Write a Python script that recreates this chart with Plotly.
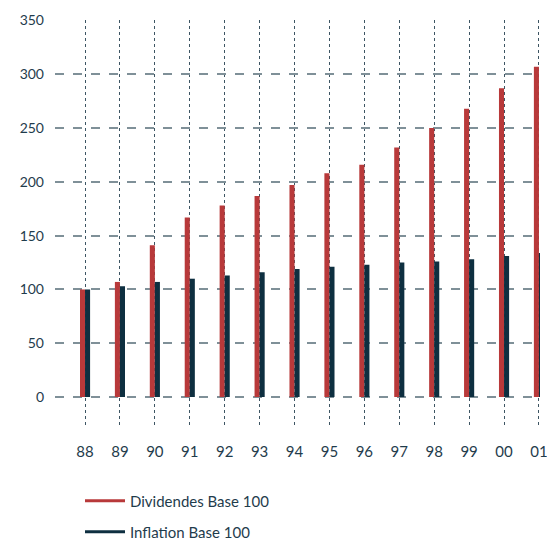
import plotly.graph_objects as go

# Years (two-digit labels) and the two indexed series
years = ["88", "89", "90", "91", "92", "93", "94", "95", "96", "97", "98", "99", "00", "01"]
dividendes = [100, 107, 141, 167, 178, 187, 197, 208, 216, 232, 250, 268, 287, 307]
inflation = [100, 103, 107, 110, 113, 116, 119, 121, 123, 125, 126, 128, 131, 134]
y_ticks = [0, 50, 100, 150, 200, 250, 300, 350]

RED = "#b8393a"
NAVY = "#0e2f40"
TEXT = "#1f3c4c"
FONT = "Lato, 'Open Sans', sans-serif"

x = list(range(len(years)))
bar_w = 0.145

fig = go.Figure()
fig.add_trace(go.Bar(x=x, y=dividendes, width=bar_w, offset=-bar_w,
                     marker=dict(color=RED, line=dict(width=0)),
                     cliponaxis=False, showlegend=False, hoverinfo="y"))
fig.add_trace(go.Bar(x=x, y=inflation, width=bar_w, offset=0,
                     marker=dict(color=NAVY, line=dict(width=0)),
                     cliponaxis=False, showlegend=False, hoverinfo="y"))

# Legend entries drawn as short lines, each in its own legend box
fig.add_trace(go.Scatter(x=[None], y=[None], mode="lines",
                         line=dict(color=RED, width=3),
                         name="Dividendes Base 100", legend="legend"))
fig.add_trace(go.Scatter(x=[None], y=[None], mode="lines",
                         line=dict(color=NAVY, width=3),
                         name="Inflation Base 100", legend="legend2"))

legend_common = dict(xref="container", yref="container", xanchor="left",
                     yanchor="middle", bgcolor="rgba(0,0,0,0)", itemwidth=40,
                     borderwidth=0,
                     font=dict(family=FONT, size=15, color=TEXT))

fig.update_layout(
    width=547, height=544,
    margin=dict(l=55, r=7, t=20, b=119, autoexpand=False),
    paper_bgcolor="white", plot_bgcolor="white",
    barmode="overlay",
    font=dict(family=FONT, size=14, color=TEXT),
    legend=dict(x=80 / 547, y=1 - 501 / 544, **legend_common),
    legend2=dict(x=80 / 547, y=1 - 532 / 544, **legend_common),
    xaxis=dict(
        range=[-0.86, 13.03],
        tickvals=x, ticktext=years, tickangle=0,
        ticklabeloverflow="allow",
        showgrid=True, gridcolor="#3d5563", griddash="dot", gridwidth=1,
        zeroline=False, showline=False, ticks="",
        ticklabelstandoff=16,
        tickfont=dict(family=FONT, size=15, color=TEXT),
    ),
    yaxis=dict(
        range=[-26, 350.5],
        tickvals=y_ticks,
        showgrid=True, gridcolor="#7f9098", griddash="dash", gridwidth=1.5,
        zeroline=False, showline=False, ticks="",
        ticklabelstandoff=10,
        tickfont=dict(family=FONT, size=14, color=TEXT),
    ),
)

fig.write_html("out.html")
